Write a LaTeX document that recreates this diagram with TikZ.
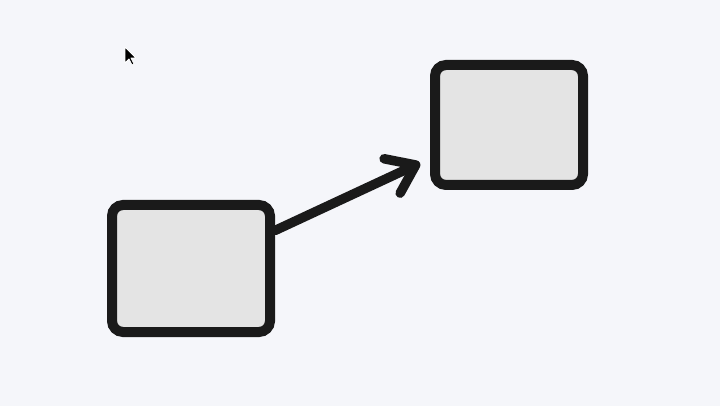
\documentclass[tikz,border=0pt]{standalone}
\usepackage{tikz}
\usetikzlibrary{arrows.meta, calc}

\definecolor{canvasbg}{HTML}{F5F6FA}
\definecolor{boxfill}{HTML}{E4E4E4}
\definecolor{inkcol}{HTML}{1A1A1A}

\begin{document}
\begin{tikzpicture}[x=1pt, y=-1pt,
	sketchbox/.style={draw=inkcol, fill=boxfill, line width=10pt, rounded corners=11pt, inner sep=0pt},
	sketcharrow/.style={draw=inkcol, line width=9.5pt, line cap=round,
		-{Straight Barb[length=26pt, width=38pt, round]}}]

		% Canvas
		\fill[canvasbg] (0,0) rectangle (720,406);
		\useasboundingbox (0,0) rectangle (720,406);

		% Box sizes (border line centre)
		\def\boxAw{158pt}
		\def\boxAh{127pt}
		\def\boxBw{148pt}
		\def\boxBh{120pt}

		% --- Boxes ---
		\node[sketchbox, minimum width=\boxAw, minimum height=\boxAh] (boxA) at (191, 268.5) {};
		\node[sketchbox, minimum width=\boxBw, minimum height=\boxBh] (boxB) at (509, 125) {};

		% --- Arrow ---
		\coordinate (arrowtip) at ([xshift=-10pt, yshift=-38pt]boxB.west);
		\draw[sketcharrow] ([yshift=38pt]boxA.east) -- (arrowtip);

		% --- Cursor ---
		\filldraw[fill=black, draw=white, line width=0.8pt, line join=round]
			(125,47) -- (125,63) -- (129,59) -- (132,65) -- (134,64) -- (131,58) -- (136,58) -- cycle;

	\end{tikzpicture}
\end{document}
